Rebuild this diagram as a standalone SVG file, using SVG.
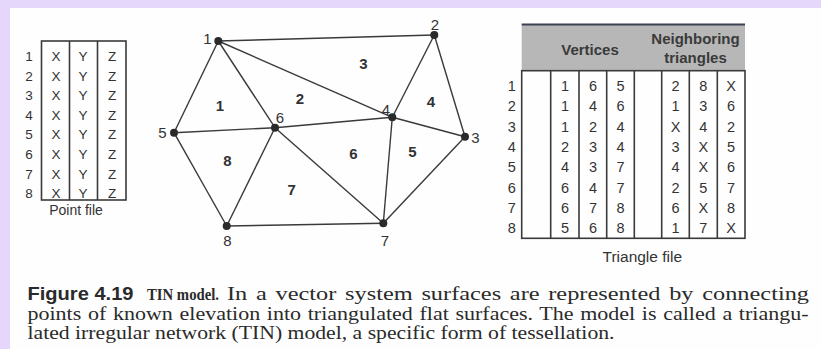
<svg xmlns="http://www.w3.org/2000/svg" width="821" height="349" viewBox="0 0 821 349">
<defs>
<style>
.bg{fill:#e5d7fb}
.page{fill:#fefefe}
.ln{stroke:#3a3a3a;stroke-width:1.4;fill:none}
.box{stroke:#3a3a3a;stroke-width:1.6;fill:none}
.t{font-family:"Liberation Sans",Arial,sans-serif;font-size:13.5px;fill:#333;text-anchor:middle}
.tt{font-family:"Liberation Sans",Arial,sans-serif;font-size:14.5px;fill:#333;text-anchor:middle}
.vl{font-family:"Liberation Sans",Arial,sans-serif;font-size:15px;fill:#333;text-anchor:middle}
.tb{font-family:"Liberation Sans",Arial,sans-serif;font-size:15px;font-weight:bold;fill:#333;text-anchor:middle}
.h{font-family:"Liberation Sans",Arial,sans-serif;font-size:15px;font-weight:bold;fill:#3a3a3a;text-anchor:middle}
.cap{font-family:"Liberation Serif","Times New Roman",serif;font-size:18.5px;fill:#2a2a2a}
.dot{fill:#2a2a2a}
</style>
</defs>
<rect class="bg" x="0" y="0" width="821" height="349"/>
<rect class="page" x="10" y="8" width="811" height="341"/>

<g id="point-file">
<rect x="41.5" y="41" width="84.5" height="159" fill="#fff" class="box"/>
<line class="box" x1="69.5" y1="41" x2="69.5" y2="200"/>
<line class="box" x1="97.5" y1="41" x2="97.5" y2="200"/>
<g class="t">
<text x="29" y="61">1</text><text x="56" y="61">X</text><text x="83" y="61">Y</text><text x="112" y="61">Z</text>
<text x="29" y="80.6">2</text><text x="56" y="80.6">X</text><text x="83" y="80.6">Y</text><text x="112" y="80.6">Z</text>
<text x="29" y="100.2">3</text><text x="56" y="100.2">X</text><text x="83" y="100.2">Y</text><text x="112" y="100.2">Z</text>
<text x="29" y="119.8">4</text><text x="56" y="119.8">X</text><text x="83" y="119.8">Y</text><text x="112" y="119.8">Z</text>
<text x="29" y="139.4">5</text><text x="56" y="139.4">X</text><text x="83" y="139.4">Y</text><text x="112" y="139.4">Z</text>
<text x="29" y="159">6</text><text x="56" y="159">X</text><text x="83" y="159">Y</text><text x="112" y="159">Z</text>
<text x="29" y="178.6">7</text><text x="56" y="178.6">X</text><text x="83" y="178.6">Y</text><text x="112" y="178.6">Z</text>
<text x="29" y="198">8</text><text x="56" y="198">X</text><text x="83" y="198">Y</text><text x="112" y="198">Z</text>
</g>
<text x="76" y="215" font-family="'Liberation Sans',Arial,sans-serif" font-size="14" fill="#333" text-anchor="middle">Point file</text>
</g>

<g id="connectors">
<line class="ln" x1="218.3" y1="41" x2="434.3" y2="35"/>
<line class="ln" x1="218.3" y1="41" x2="174" y2="132.7"/>
<line class="ln" x1="218.3" y1="41" x2="275" y2="127.7"/>
<line class="ln" x1="218.3" y1="41" x2="392.3" y2="117.3"/>
<line class="ln" x1="434.3" y1="35" x2="392.3" y2="117.3"/>
<line class="ln" x1="434.3" y1="35" x2="465" y2="136.7"/>
<line class="ln" x1="392.3" y1="117.3" x2="465" y2="136.7"/>
<line class="ln" x1="174" y1="132.7" x2="275" y2="127.7"/>
<line class="ln" x1="275" y1="127.7" x2="392.3" y2="117.3"/>
<line class="ln" x1="174" y1="132.7" x2="226.7" y2="226"/>
<line class="ln" x1="275" y1="127.7" x2="226.7" y2="226"/>
<line class="ln" x1="275" y1="127.7" x2="383.3" y2="223.3"/>
<line class="ln" x1="392.3" y1="117.3" x2="383.3" y2="223.3"/>
<line class="ln" x1="465" y1="136.7" x2="383.3" y2="223.3"/>
<line class="ln" x1="226.7" y1="226" x2="383.3" y2="223.3"/>
</g>

<g id="v1"><circle class="dot" cx="218.3" cy="41" r="4"/><text class="vl" x="207.5" y="44">1</text></g>
<g id="v2"><circle class="dot" cx="434.3" cy="35" r="4"/><text class="vl" x="435" y="29.5">2</text></g>
<g id="v3"><circle class="dot" cx="465" cy="136.7" r="4"/><text class="vl" x="475.5" y="143">3</text></g>
<g id="v4"><circle class="dot" cx="392.3" cy="117.3" r="4"/><text class="vl" x="386" y="114.5">4</text></g>
<g id="v5"><circle class="dot" cx="174" cy="132.7" r="4"/><text class="vl" x="162.5" y="138">5</text></g>
<g id="v6"><circle class="dot" cx="275" cy="127.7" r="4"/><text class="vl" x="280" y="123">6</text></g>
<g id="v7"><circle class="dot" cx="383.3" cy="223.3" r="4"/><text class="vl" x="385" y="245.5">7</text></g>
<g id="v8"><circle class="dot" cx="226.7" cy="226" r="4"/><text class="vl" x="227.3" y="245.5">8</text></g>

<g id="triangle-labels" class="tb">
<text x="220" y="110.5">1</text>
<text x="300" y="104">2</text>
<text x="363.3" y="69">3</text>
<text x="431" y="107">4</text>
<text x="412.3" y="157">5</text>
<text x="353.3" y="159">6</text>
<text x="291.7" y="194.5">7</text>
<text x="227.3" y="166">8</text>
</g>

<g id="triangle-file">
<rect x="521.7" y="24.5" width="223.3" height="46.2" fill="#b7b7b7"/>
<line x1="521.7" y1="24.5" x2="745" y2="24.5" stroke="#3b4150" stroke-width="1.8"/>
<text class="h" x="590" y="54.5">Vertices</text>
<text class="h" x="695.5" y="43.5">Neighboring</text>
<text class="h" x="695.5" y="62.5">triangles</text>
<rect x="521.7" y="70.7" width="223.3" height="167.6" fill="#fff" class="box"/>
<line class="box" x1="550.7" y1="70.7" x2="550.7" y2="238.3"/>
<line class="box" x1="579" y1="70.7" x2="579" y2="238.3"/>
<line class="box" x1="606.7" y1="70.7" x2="606.7" y2="238.3"/>
<line class="box" x1="634.3" y1="70.7" x2="634.3" y2="238.3"/>
<line class="box" x1="661.7" y1="70.7" x2="661.7" y2="238.3"/>
<line class="box" x1="689.3" y1="70.7" x2="689.3" y2="238.3"/>
<line class="box" x1="717.3" y1="70.7" x2="717.3" y2="238.3"/>
<g class="tt">
<text x="511.7" y="91">1</text><text x="565" y="91">1</text><text x="593" y="91">6</text><text x="620.5" y="91">5</text><text x="675.5" y="91">2</text><text x="703.3" y="91">8</text><text x="731" y="91">X</text>
<text x="511.7" y="111.3">2</text><text x="565" y="111.3">1</text><text x="593" y="111.3">4</text><text x="620.5" y="111.3">6</text><text x="675.5" y="111.3">1</text><text x="703.3" y="111.3">3</text><text x="731" y="111.3">6</text>
<text x="511.7" y="131.6">3</text><text x="565" y="131.6">1</text><text x="593" y="131.6">2</text><text x="620.5" y="131.6">4</text><text x="675.5" y="131.6">X</text><text x="703.3" y="131.6">4</text><text x="731" y="131.6">2</text>
<text x="511.7" y="151.9">4</text><text x="565" y="151.9">2</text><text x="593" y="151.9">3</text><text x="620.5" y="151.9">4</text><text x="675.5" y="151.9">3</text><text x="703.3" y="151.9">X</text><text x="731" y="151.9">5</text>
<text x="511.7" y="172.2">5</text><text x="565" y="172.2">4</text><text x="593" y="172.2">3</text><text x="620.5" y="172.2">7</text><text x="675.5" y="172.2">4</text><text x="703.3" y="172.2">X</text><text x="731" y="172.2">6</text>
<text x="511.7" y="192.5">6</text><text x="565" y="192.5">6</text><text x="593" y="192.5">4</text><text x="620.5" y="192.5">7</text><text x="675.5" y="192.5">2</text><text x="703.3" y="192.5">5</text><text x="731" y="192.5">7</text>
<text x="511.7" y="212.8">7</text><text x="565" y="212.8">6</text><text x="593" y="212.8">7</text><text x="620.5" y="212.8">8</text><text x="675.5" y="212.8">6</text><text x="703.3" y="212.8">X</text><text x="731" y="212.8">8</text>
<text x="511.7" y="233.1">8</text><text x="565" y="233.1">5</text><text x="593" y="233.1">6</text><text x="620.5" y="233.1">8</text><text x="675.5" y="233.1">1</text><text x="703.3" y="233.1">7</text><text x="731" y="233.1">X</text>
</g>
<text x="642.3" y="261.5" font-family="'Liberation Sans',Arial,sans-serif" font-size="15.5" fill="#333" text-anchor="middle">Triangle file</text>
</g>

<g id="caption">
<text x="27.5" y="300" font-family="'Liberation Sans',Arial,sans-serif" font-size="19" font-weight="bold" fill="#2a2a2a" textLength="106" lengthAdjust="spacingAndGlyphs">Figure 4.19</text>
<text x="147" y="300" font-family="'Liberation Serif','Times New Roman',serif" font-size="16" font-weight="bold" fill="#2a2a2a" textLength="72" lengthAdjust="spacingAndGlyphs">TIN model.</text>
<text x="227" y="300" class="cap" word-spacing="2" textLength="582" lengthAdjust="spacingAndGlyphs">In a vector system surfaces are represented by connecting</text>
<text x="27.5" y="319.5" class="cap" word-spacing="1" textLength="781" lengthAdjust="spacingAndGlyphs">points of known elevation into triangulated flat surfaces. The model is called a triangu-</text>
<text x="27.5" y="339" class="cap" textLength="587" lengthAdjust="spacingAndGlyphs">lated irregular network (TIN) model, a specific form of tessellation.</text>
</g>
</svg>
